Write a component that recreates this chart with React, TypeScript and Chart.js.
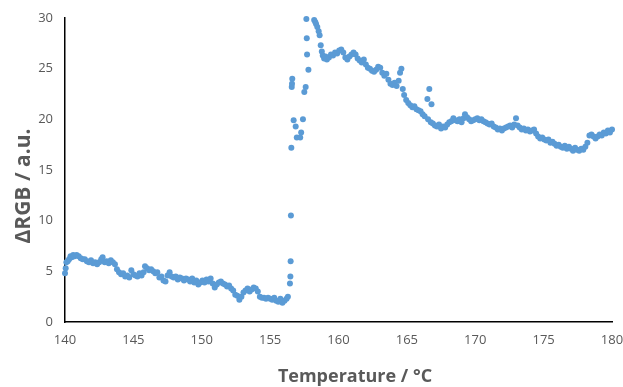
import React, { useEffect, useRef } from "react";
import { Chart, registerables } from "chart.js";

Chart.register(...registerables);

// Temperature (°C) readings and ΔRGB values
const temperature: number[] = [
  140.00, 140.05, 140.10, 140.20, 140.30, 140.40, 140.50, 140.60, 140.70, 140.85,
  141.00, 141.15, 141.30, 141.45, 141.60, 141.75, 141.90, 142.05, 142.20, 142.35,
  142.50, 142.65, 142.75, 142.90, 143.05, 143.20, 143.35, 143.50, 143.65, 143.80,
  143.95, 144.10, 144.25, 144.40, 144.55, 144.70, 144.85, 145.00, 145.15, 145.30,
  145.45, 145.60, 145.75, 145.85, 146.00, 146.15, 146.30, 146.45, 146.60, 146.75,
  146.90, 147.05, 147.20, 147.35, 147.50, 147.65, 147.80, 147.95, 148.10, 148.25,
  148.40, 148.55, 148.70, 148.85, 149.00, 149.15, 149.30, 149.45, 149.60, 149.75,
  149.90, 150.05, 150.20, 150.35, 150.50, 150.65, 150.80, 150.95, 151.10, 151.25,
  151.40, 151.55, 151.70, 151.85, 152.00, 152.15, 152.30, 152.45, 152.60, 152.75,
  152.90, 153.05, 153.20, 153.35, 153.50, 153.65, 153.80, 153.95, 154.10, 154.25,
  154.40, 154.55, 154.70, 154.85, 155.00, 155.15, 155.30, 155.45, 155.60, 155.75,
  155.90, 156.05, 156.20, 156.30,
  156.45, 156.48, 156.50, 156.52, 156.55, 156.58, 156.60, 156.62, 156.72, 156.87,
  156.95, 157.20, 157.27, 157.40, 157.50, 157.60, 157.65, 157.68, 157.70, 157.80,
  158.22, 158.30, 158.36, 158.45, 158.55, 158.62, 158.70, 158.78, 158.85, 158.95,
  159.05,
  159.15, 159.30, 159.45, 159.60, 159.75, 159.90, 160.05, 160.20, 160.35, 160.50,
  160.65, 160.80, 160.95, 161.10, 161.25, 161.40, 161.55, 161.70, 161.85, 162.00,
  162.15, 162.30, 162.45, 162.60, 162.75, 162.90, 163.05, 163.20, 163.35, 163.50,
  163.65, 163.80, 163.95, 164.10, 164.25, 164.40, 164.50, 164.60, 164.70, 164.80,
  164.95, 165.10, 165.25, 165.40, 165.55, 165.70, 165.85, 166.00, 166.15, 166.30,
  166.50, 166.64, 166.80, 166.55, 166.75, 166.90, 167.05, 167.20, 167.35, 167.50,
  167.65, 167.80, 167.95, 168.10, 168.25, 168.40, 168.55, 168.70, 168.85, 169.00,
  169.15, 169.25, 169.40, 169.55, 169.70, 169.85, 170.00, 170.15, 170.30, 170.45,
  170.60, 170.75, 170.90, 171.05, 171.20, 171.35, 171.50, 171.65, 171.80, 171.95,
  172.10, 172.25, 172.40, 172.55, 172.70, 172.85, 172.98, 173.10, 173.25, 173.40,
  173.55, 173.70, 173.85, 174.00, 174.15, 174.30, 174.45, 174.60, 174.75, 174.90,
  175.05, 175.20, 175.35, 175.50, 175.65, 175.80, 175.95, 176.10, 176.25, 176.40,
  176.55, 176.70, 176.85, 177.00, 177.15, 177.30, 177.45, 177.60, 177.75, 177.90,
  178.05, 178.20, 178.35, 178.50, 178.65, 178.80, 178.95, 179.10, 179.25, 179.40,
  179.55, 179.70, 179.85, 180.00,
];

const deltaRGB: number[] = [
  4.8, 5.3, 5.9, 6.0, 6.2, 6.5, 6.4, 6.6, 6.5, 6.6,
  6.5, 6.3, 6.2, 6.2, 6.0, 5.9, 6.1, 5.8, 5.9, 5.7,
  5.9, 6.2, 6.4, 5.9, 6.0, 5.8, 6.1, 5.9, 5.7, 5.2,
  4.9, 4.7, 4.8, 4.5, 4.6, 4.4, 5.1, 4.7, 4.6, 4.5,
  4.8, 4.6, 4.9, 5.5, 5.3, 5.1, 5.2, 5.0, 4.8, 4.9,
  4.4, 4.5, 4.1, 4.0, 4.6, 4.9, 4.5, 4.4, 4.5, 4.2,
  4.4, 4.3, 4.1, 4.3, 4.2, 4.0, 4.3, 3.9, 4.1, 3.7,
  3.9, 4.1, 3.9, 4.2, 4.0, 4.3, 3.8, 3.4, 3.7, 3.9,
  4.0, 3.8, 3.7, 3.5, 3.6, 3.3, 3.1, 2.7, 2.6, 2.2,
  2.5, 2.9, 3.1, 3.3, 3.0, 3.2, 3.4, 3.3, 3.0, 2.5,
  2.4, 2.4, 2.3, 2.4, 2.3, 2.2, 2.4, 2.1, 2.0, 2.3,
  1.9, 2.1, 2.3, 2.5,
  3.8, 4.5, 6.0, 10.5, 17.2, 23.2, 23.5, 24.0, 19.9, 19.3,
  18.2, 18.2, 18.7, 20.0, 22.7, 23.2, 29.9, 28.0, 26.4, 24.9,
  29.8, 29.6, 29.4, 29.1, 28.7, 28.3, 27.3, 26.7, 26.3, 26.0,
  26.2,
  25.9, 26.1, 26.4, 26.3, 26.6, 26.5, 26.8, 26.9, 26.6, 26.1,
  25.9, 26.2, 26.4, 26.6, 26.4, 26.0, 25.8, 25.6, 25.9, 25.4,
  25.1, 25.0, 24.8, 24.7, 24.9, 25.2, 25.1, 24.6, 24.3, 24.5,
  23.9, 23.5, 23.4, 23.6, 23.3, 23.8, 24.6, 25.0, 23.0, 22.4,
  21.9, 21.6, 21.4, 21.2, 21.3, 21.0, 20.9, 20.8, 20.5, 20.3,
  22.0, 23.0, 21.5, 20.0, 19.7, 19.6, 19.4, 19.3, 19.5, 19.1,
  19.3, 19.2, 19.5, 19.7, 19.8, 20.1, 19.9, 19.8, 20.0, 19.7,
  20.1, 20.5, 20.2, 20.0, 19.8, 19.9, 20.0, 20.1, 19.9, 20.0,
  19.8, 19.7, 19.6, 19.5, 19.6, 19.3, 19.2, 19.0, 19.1, 18.9,
  19.1, 19.2, 19.3, 19.4, 19.2, 19.5, 20.1, 19.4, 19.2, 19.0,
  19.1, 18.9, 19.0, 18.8, 18.9, 19.0, 18.6, 18.3, 18.1, 18.2,
  18.0, 17.9, 18.0, 17.7, 17.8, 17.6, 17.4, 17.5, 17.3, 17.2,
  17.4, 17.1, 17.3, 17.1, 16.9, 17.2, 17.0, 16.9, 17.1, 17.0,
  17.3, 17.7, 18.4, 18.5, 18.3, 18.1, 18.3, 18.5, 18.4, 18.7,
  18.6, 18.9, 18.7, 19.0,
];

const xTicks: number[] = [140, 145, 150, 155, 160, 165, 170, 175, 180];
const yTicks: number[] = [0, 5, 10, 15, 20, 25, 30];
const xTitle = "Temperature / °C";
const yTitle = "ΔRGB / a.u.";

const GREY = "#595959";
const FONT = "'Open Sans', 'Liberation Sans', sans-serif";

const titlePlugin = {
  id: "axisTitles",
  afterDraw(chart: any) {
    const ctx = chart.ctx;
    ctx.save();
    ctx.fillStyle = GREY;
    ctx.textAlign = "center";
    ctx.textBaseline = "middle";
    ctx.font = `bold 18px ${FONT}`;
    ctx.fillText(xTitle, 355, 377);
    ctx.font = `bold 21px ${FONT}`;
    ctx.translate(24, 186);
    ctx.rotate(-Math.PI / 2);
    ctx.fillText(yTitle, 0, 0);
    ctx.restore();
  },
};

export default function App() {
  const ref = useRef<HTMLCanvasElement | null>(null);

  useEffect(() => {
    if (!ref.current) return;
    const points = temperature.map((t, i) => ({ x: t, y: deltaRGB[i] }));
    const chart = new Chart(ref.current, {
      type: "scatter",
      data: {
        datasets: [
          {
            data: points,
            backgroundColor: "#5B9BD5",
            borderColor: "#5B9BD5",
            borderWidth: 0,
            pointRadius: 3,
            pointHoverRadius: 3,
            clip: false,
          },
        ],
      },
      plugins: [titlePlugin],
      options: {
        animation: false,
        responsive: false,
        events: [],
        layout: { padding: { left: 0, top: 18, right: 11, bottom: 0 } },
        plugins: {
          legend: { display: false },
          tooltip: { enabled: false },
        },
        scales: {
          x: {
            type: "linear",
            min: 140,
            max: 180,
            afterBuildTicks: (scale: any) => {
              scale.ticks = xTicks.map((v) => ({ value: v }));
            },
            afterFit: (scale: any) => {
              scale.height = 65;
              scale.paddingLeft = 0;
              scale.paddingRight = 0;
            },
            grid: { display: false, drawTicks: false },
            border: { display: true, color: "#000000", width: 1.5 },
            ticks: {
              color: GREY,
              padding: 10,
              font: { family: FONT, size: 13 },
              maxRotation: 0,
            },
          },
          y: {
            type: "linear",
            min: 0,
            max: 30,
            afterBuildTicks: (scale: any) => {
              scale.ticks = yTicks.map((v) => ({ value: v }));
            },
            afterFit: (scale: any) => {
              scale.width = 65;
              scale.paddingTop = 0;
              scale.paddingBottom = 0;
            },
            grid: { display: false, drawTicks: false },
            border: { display: true, color: "#000000", width: 1.5 },
            ticks: {
              color: GREY,
              padding: 12,
              font: { family: FONT, size: 13 },
            },
          },
        },
      },
    });
    return () => chart.destroy();
  }, []);

  return (
    <div style={{ position: "absolute", left: 0, top: 0, width: 623, height: 387, background: "#ffffff" }}>
      <canvas ref={ref} width={623} height={387} style={{ display: "block" }} />
    </div>
  );
}
